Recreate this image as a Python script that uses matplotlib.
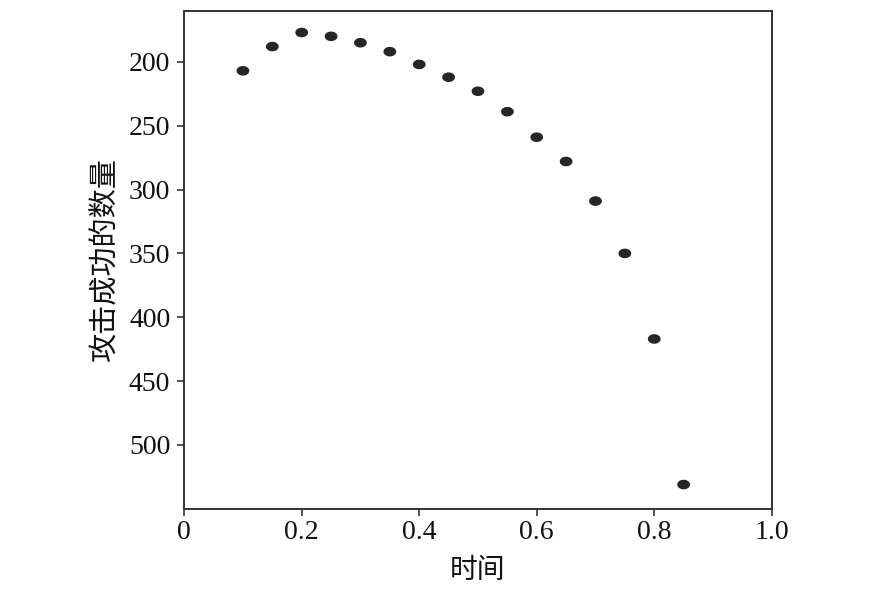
import matplotlib
matplotlib.use("Agg")
import matplotlib.pyplot as plt
from matplotlib.path import Path
import numpy as np

# data (y axis inverted)
time_vals = [0.10, 0.15, 0.20, 0.25, 0.30, 0.35, 0.40, 0.45,
             0.50, 0.55, 0.60, 0.65, 0.70, 0.75, 0.80, 0.85]
attack_counts = [207, 188, 177, 180, 185, 192, 202, 212,
                 223, 239, 259, 278, 309, 350, 417, 531]
x_ticks = [0, 0.2, 0.4, 0.6, 0.8, 1.0]
x_ticklabels = ["0", "0.2", "0.4", "0.6", "0.8", "1.0"]
y_ticks = [200, 250, 300, 350, 400, 450, 500]

cjk = ["Noto Sans CJK SC", "DejaVu Sans"]
num_font = "Liberation Serif"

# slightly wide ellipse marker, like the original dots
t = np.linspace(0, 2 * np.pi, 40)
ellipse = Path(np.column_stack([np.cos(t), 0.75 * np.sin(t)]), closed=True)

fig = plt.figure(figsize=(8.77, 6.0), dpi=100)
ax = fig.add_axes([0.21, 0.152, 0.67, 0.830])

ax.scatter(time_vals, attack_counts, marker=ellipse, s=85, color="#262626",
           edgecolors="none", zorder=3)

ax.set_xlim(0, 1.0)
ax.set_ylim(550, 160)
ax.set_xticks(x_ticks)
ax.set_xticklabels(x_ticklabels)
ax.set_yticks(y_ticks)

for lab in ax.get_xticklabels() + ax.get_yticklabels():
    lab.set_fontfamily(num_font)
    lab.set_fontsize(20)
    lab.set_color("#111111")

ax.tick_params(direction="out", length=5, width=1.2, color="#333333")
ax.tick_params(axis="x", pad=3)
ax.tick_params(axis="y", pad=5)
for sp in ax.spines.values():
    sp.set_linewidth(1.4)
    sp.set_color("#333333")

ax.set_xlabel("时间", family=cjk, fontsize=20, color="#111111", labelpad=7)
ax.set_ylabel("攻击成功的数量", family=cjk, fontsize=21, color="#111111", labelpad=6)

fig.savefig("out.png", dpi=100, facecolor="white")
